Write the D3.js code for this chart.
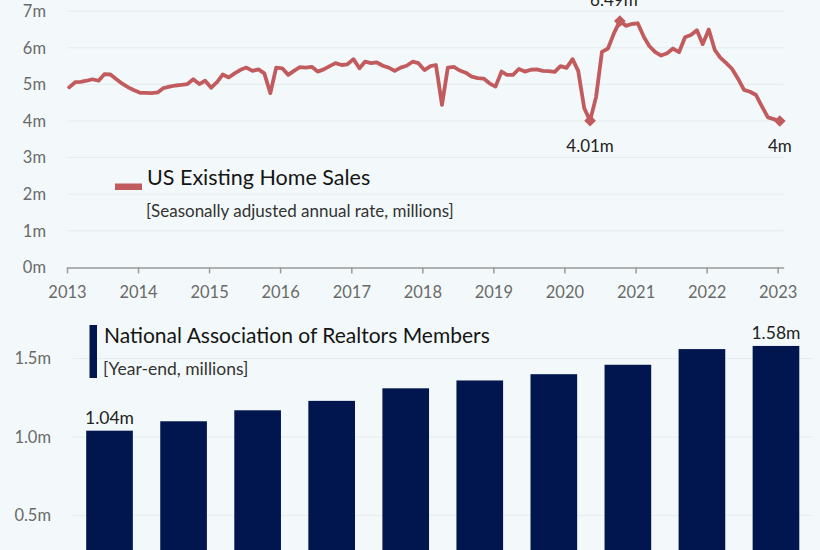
<!DOCTYPE html>
<html><head><meta charset="utf-8">
<script src="https://cdn.jsdelivr.net/npm/d3@7"></script>
<style>
html,body{margin:0;padding:0;background:#f3f9fa;}
svg{display:block;font-family:Lato,"Open Sans",sans-serif;}
</style></head><body>
<svg id="chart" width="820" height="550"></svg>
<script>
// ---------- data ----------
const salesStartYear = 2013;
// US existing home sales, monthly SAAR (millions), Jan 2013 .. Jan 2023
const salesValues = [
  4.92, 5.06, 5.07, 5.10, 5.14, 5.10, 5.28, 5.27, 5.14, 5.02, 4.92, 4.84, // 2013
  4.77, 4.77, 4.76, 4.78, 4.90, 4.94, 4.97, 4.99, 5.01, 5.14, 5.01, 5.10, // 2014
  4.91, 5.07, 5.27, 5.19, 5.30, 5.40, 5.46, 5.37, 5.41, 5.30, 4.76, 5.46, // 2015
  5.44, 5.26, 5.37, 5.47, 5.46, 5.48, 5.35, 5.41, 5.50, 5.58, 5.53, 5.55, // 2016
  5.69, 5.44, 5.62, 5.58, 5.60, 5.51, 5.46, 5.37, 5.46, 5.51, 5.62, 5.58, // 2017
  5.39, 5.50, 5.53, 4.44, 5.46, 5.48, 5.38, 5.32, 5.21, 5.17, 5.16, 5.03, // 2018
  4.94, 5.35, 5.26, 5.26, 5.42, 5.35, 5.40, 5.41, 5.37, 5.36, 5.34, 5.50, // 2019
  5.45, 5.69, 5.37, 4.35, 4.01, 4.66, 5.89, 5.98, 6.40, 6.73, 6.60, 6.65, // 2020
  6.67, 6.30, 6.05, 5.88, 5.79, 5.85, 5.98, 5.88, 6.29, 6.35, 6.48, 6.10, // 2021
  6.50, 5.94, 5.73, 5.58, 5.42, 5.15, 4.85, 4.80, 4.71, 4.40, 4.10, 4.05, // 2022
  4.00                                                                    // 2023
];
const yearTicks = [2013,2014,2015,2016,2017,2018,2019,2020,2021,2022,2023];
const salesTicks = [0,1,2,3,4,5,6,7];
const markerIndices = [88, 93, 120];
const markerLabels = ["4.01m", "6.49m", "4m"];

const memberYears = [2013,2014,2015,2016,2017,2018,2019,2020,2021,2022];
const memberValues = [1.04,1.10,1.17,1.23,1.31,1.36,1.40,1.46,1.56,1.58];
const memberTicks = [0.5,1.0,1.5];
const memberLabelYears = [2013, 2022];
const memberLabels = ["1.04m", "1.58m"];

const salesTitle = "US Existing Home Sales";
const salesSubtitle = "[Seasonally adjusted annual rate, millions]";
const memberTitle = "National Association of Realtors Members";
const memberSubtitle = "[Year-end, millions]";

// ---------- drawing ----------
const RED = "#c25b5e", NAVY = "#01154f", GRID = "#e4eced", TICK = "#6a6a6a";
const svg = d3.select("#chart");
svg.append("rect").attr("width",820).attr("height",550).attr("fill","#f3f9fa");

const salesData = salesValues.map((v,i)=>({date:new Date(salesStartYear, i, 12), v}));

// Top chart
const x = d3.scaleTime().domain([new Date(2013,0,1), new Date(2023,1,1)]).range([67, 783.7]);
const y = d3.scaleLinear().domain([0,7]).range([267.4, 11.2]);

const gTop = svg.append("g");
gTop.append("g").selectAll("line").data(salesTicks.filter(t=>t>0)).join("line")
  .attr("x1", x.range()[0]).attr("x2", x.range()[1])
  .attr("y1", d=>y(d)).attr("y2", d=>y(d))
  .attr("stroke", GRID).attr("stroke-width",1);

const yAx = gTop.append("g").attr("transform","translate(67,0)")
  .call(d3.axisLeft(y).tickValues(salesTicks).tickFormat(d=>d+"m").tickSize(0).tickPadding(21));
yAx.select(".domain").remove();
yAx.selectAll("text").attr("font-size",16.5).attr("fill",TICK).attr("font-family","Lato");

const xAx = gTop.append("g").attr("transform",`translate(0,${y(0)})`)
  .call(d3.axisBottom(x).tickValues(yearTicks.map(yr=>new Date(yr,0,1)))
        .tickFormat(d3.timeFormat("%Y")).tickSize(6).tickSizeOuter(0).tickPadding(13));
xAx.select(".domain").attr("stroke","#9a9a9a").attr("stroke-width",1.5);
xAx.selectAll(".tick line").attr("stroke","#9a9a9a").attr("stroke-width",1.5);
xAx.selectAll("text").attr("font-size",16.5).attr("fill",TICK).attr("font-family","Lato");

gTop.append("path").datum(salesData)
  .attr("fill","none").attr("stroke",RED).attr("stroke-width",3.8)
  .attr("stroke-linejoin","round").attr("stroke-linecap","round")
  .attr("d", d3.line().x(d=>x(d.date)).y(d=>y(d.v)));

const diamond = d3.symbol().type(d3.symbolSquare).size(68);
markerIndices.forEach((idx,k)=>{
  const d = salesData[idx];
  const px = x(d.date), py = y(d.v);
  gTop.append("path").attr("d", diamond())
    .attr("transform",`translate(${px},${py}) rotate(45)`).attr("fill",RED);
  const above = d.v > 6;
  gTop.append("text").text(markerLabels[k])
    .attr("x", above ? px-6 : px).attr("y", above ? py-15 : py+31)
    .attr("text-anchor","middle").attr("font-size",17).attr("fill","#222");
});

// legend top
gTop.append("rect").attr("x",115).attr("y",183.5).attr("width",27).attr("height",6.5).attr("fill",RED);
gTop.append("text").text(salesTitle).attr("x",147).attr("y",185)
  .attr("font-size",21.5).attr("fill","#151515");
gTop.append("text").text(salesSubtitle).attr("x",146).attr("y",217)
  .attr("font-size",17).attr("fill","#333");

// Bottom chart
const xb = d3.scaleBand().domain(memberYears).range([72.5, 813]).paddingInner(0.37).paddingOuter(0.185);
const yb = d3.scaleLinear().domain([0,1.5]).range([593.9, 358.5]);
const gBot = svg.append("g");
gBot.append("g").selectAll("line").data(memberTicks).join("line")
  .attr("x1", xb.range()[0]).attr("x2", xb.range()[1])
  .attr("y1", d=>yb(d)).attr("y2", d=>yb(d))
  .attr("stroke", GRID).attr("stroke-width",1);
const ybAx = gBot.append("g").attr("transform","translate(72,0)")
  .call(d3.axisLeft(yb).tickValues(memberTicks).tickFormat(d=>d3.format(".1f")(d)+"m").tickSize(0).tickPadding(21));
ybAx.select(".domain").remove();
ybAx.selectAll("text").attr("font-size",16.5).attr("fill",TICK).attr("font-family","Lato");

gBot.append("g").selectAll("rect").data(memberYears.map((yr,i)=>({yr, v:memberValues[i]}))).join("rect")
  .attr("x", d=>xb(d.yr)).attr("width", xb.bandwidth())
  .attr("y", d=>yb(d.v)).attr("height", d=>yb(0)-yb(d.v))
  .attr("fill", NAVY);

memberLabelYears.forEach((yr,k)=>{
  const v = memberValues[memberYears.indexOf(yr)];
  gBot.append("text").text(memberLabels[k])
    .attr("x", xb(yr)+xb.bandwidth()/2).attr("y", yb(v)-7)
    .attr("text-anchor","middle").attr("font-size",17.5).attr("fill","#222");
});

gBot.append("rect").attr("x",89.5).attr("y",325).attr("width",7.5).attr("height",53).attr("fill",NAVY);
gBot.append("text").text(memberTitle).attr("x",104).attr("y",343)
  .attr("font-size",21).attr("fill","#151515");
gBot.append("text").text(memberSubtitle).attr("x",103).attr("y",375)
  .attr("font-size",17.5).attr("fill","#333");
</script>
</body></html>
